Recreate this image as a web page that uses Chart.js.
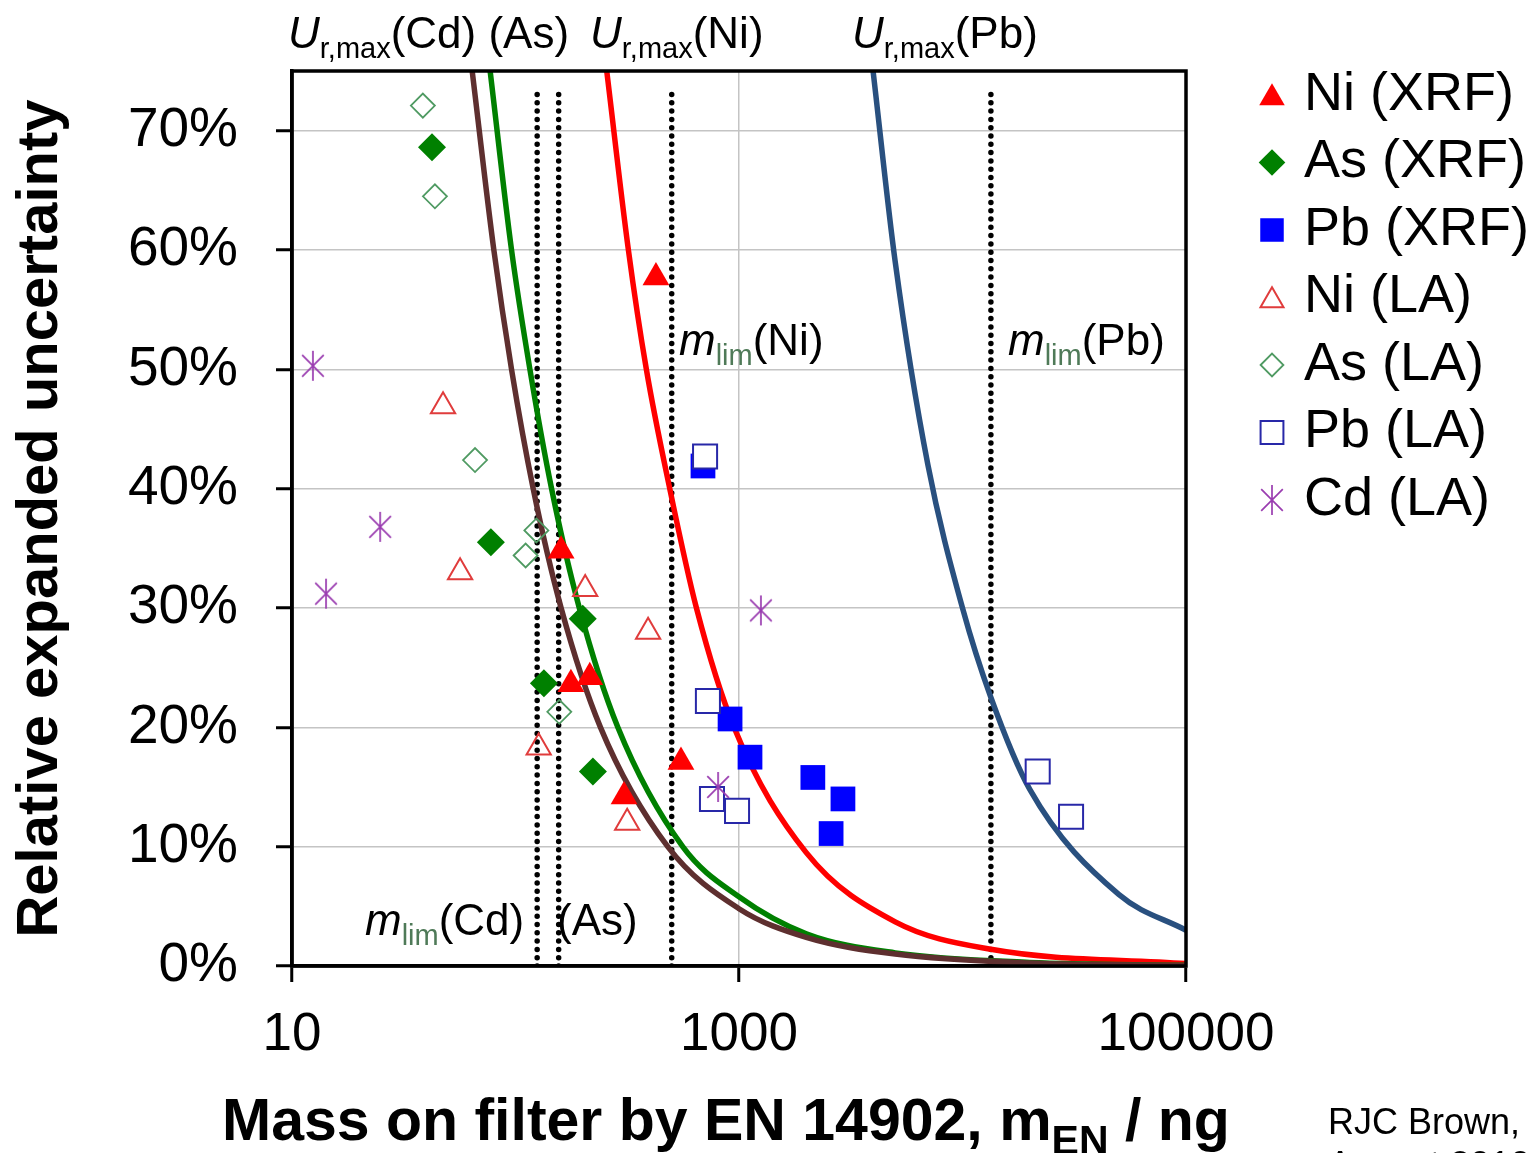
<!DOCTYPE html>
<html>
<head>
<meta charset="utf-8">
<title>Relative expanded uncertainty vs mass on filter</title>
<script src="https://cdn.jsdelivr.net/npm/chart.js@4.4.1/dist/chart.umd.min.js"></script>
<style>
  html, body { margin: 0; padding: 0; background: #fff; }
  #wrap { position: relative; width: 1533px; height: 1153px; }
</style>
</head>
<body>
<div id="wrap"><canvas id="chart"></canvas></div>
<script>
// ===== DATA (mass in ng, uncertainty in %) =====
const X_TICKS = [10, 1000, 100000];

const NI_XRF_MASS = [425, 160, 177, 215, 306, 550];
const NI_XRF_U    = [57.7, 34.8, 23.6, 24.2, 14.2, 17.1];

const AS_XRF_MASS = [42.3, 77.6, 134, 200, 222];
const AS_XRF_U    = [68.6, 35.5, 23.7, 29.1, 16.3];

const PB_XRF_MASS = [690, 912, 1120, 2140, 2918, 2583];
const PB_XRF_U    = [41.9, 20.7, 17.5, 15.8, 14.0, 11.1];

const NI_LA_MASS = [47.4, 56.5, 205, 392, 127, 316];
const NI_LA_U    = [46.9, 33.0, 31.6, 28.0, 18.3, 12.0];

const AS_LA_MASS = [38.5, 43.6, 65.9, 124, 111, 157];
const AS_LA_U    = [72.1, 64.5, 42.4, 36.5, 34.4, 21.3];

const PB_LA_MASS = [705, 726, 757, 980, 21700, 30600];
const PB_LA_U    = [42.7, 22.2, 14.0, 13.0, 16.3, 12.5];

const CD_LA_MASS = [12.4, 24.8, 14.2, 1253, 806];
const CD_LA_U    = [50.3, 36.8, 31.2, 29.8, 15.0];

// Ur,max curves
const CD_CURVE_MASS = [64, 80, 96, 120, 160, 240, 480, 1000, 2000, 5000, 20000, 100000];
const CD_CURVE_U    = [75, 60, 50, 40, 30, 20, 10, 4.8, 2.4, 1.0, 0.25, 0.05];

const AS_CURVE_MASS = [77, 96, 116, 145, 193, 287, 560, 1000, 2000, 5000, 20000, 100000];
const AS_CURVE_U    = [75, 60, 50, 40, 30, 20, 10, 5.8, 2.7, 1.1, 0.3, 0.06];

const NI_CURVE_MASS = [256, 320, 385, 490, 645, 950, 2000, 5000, 13400, 100000];
const NI_CURVE_U    = [75, 60, 50, 40, 30, 20, 9.5, 3.7, 1.4, 0.2];

const PB_CURVE_MASS = [3980, 5000, 7000, 10000, 13400, 20000, 50000, 100000];
const PB_CURVE_U    = [75, 59, 42, 30, 22.5, 14.8, 6.0, 3.0];

// m_lim positions (dotted verticals)
const MLIM_MASS = [125, 156, 500, 13400];
const MLIM_SPAN = [0, 73.5];

// ===== HELPERS =====
const FONT = "'Liberation Sans', Arial, sans-serif";
Chart.defaults.font.family = FONT;
Chart.defaults.color = '#000';

const pts = (xs, ys) => xs.map((x, i) => ({ x, y: ys[i] }));

function makeAsterisk(size, color) {
  const c = document.createElement('canvas');
  c.width = size; c.height = size;
  const g = c.getContext('2d');
  const h = size / 2, r = h - 1, d = r * 0.72;
  g.strokeStyle = color;
  g.lineWidth = 1.7;
  g.beginPath();
  g.moveTo(h, h - r); g.lineTo(h, h + r);
  g.moveTo(h - d, h - d); g.lineTo(h + d, h + d);
  g.moveTo(h + d, h - d); g.lineTo(h - d, h + d);
  g.stroke();
  return c;
}
const ASTERISK = makeAsterisk(32, '#9a3db0');

function marker(label, xs, ys, style, radius, fill, stroke, width, order) {
  return {
    label, data: pts(xs, ys), order,
    pointStyle: style, pointRadius: radius, pointHoverRadius: radius,
    backgroundColor: fill, borderColor: stroke, borderWidth: width,
    showLine: false, legendMarker: true
  };
}

function curve(label, xs, ys, color, order) {
  return {
    label, data: pts(xs, ys), order,
    showLine: true, borderColor: color, borderWidth: 5.5,
    pointRadius: 0, pointHoverRadius: 0,
    cubicInterpolationMode: 'monotone', fill: false
  };
}

function dotted(mass, order) {
  return {
    label: 'mlim', data: MLIM_SPAN.map(y => ({ x: mass, y })), order,
    showLine: true, borderColor: '#000', borderWidth: 5.5,
    borderDash: [0, 8.3], borderCapStyle: 'round',
    pointRadius: 0, pointHoverRadius: 0
  };
}

function drawRich(ctx, x, y, parts) {
  parts.forEach(p => {
    ctx.font = p.font;
    ctx.fillStyle = p.color || '#000';
    ctx.fillText(p.text, x, y + (p.dy || 0));
    x += ctx.measureText(p.text).width;
  });
  return x;
}

const F_MAIN = `44px ${FONT}`;
const F_ITAL = `italic 44px ${FONT}`;
const F_SUB = `29px ${FONT}`;
const LIM_COLOR = '#4f7a58';

const urmax = el => [
  { text: 'U', font: F_ITAL },
  { text: 'r,max', font: F_SUB, dy: 10 },
  { text: el, font: F_MAIN }
];
const mlim = el => [
  { text: 'm', font: F_ITAL },
  { text: 'lim', font: F_SUB, dy: 10, color: LIM_COLOR },
  { text: el, font: F_MAIN }
];

// ===== DECORATION PLUGIN =====
const decor = {
  id: 'decor',
  afterDraw(chart) {
    const { ctx, chartArea: a } = chart;
    ctx.save();

    // plot frame
    ctx.strokeStyle = '#000';
    ctx.lineWidth = 3.5;
    ctx.strokeRect(a.left, a.top, a.right - a.left, a.bottom - a.top);

    ctx.textBaseline = 'alphabetic';
    ctx.textAlign = 'left';

    // top labels
    drawRich(ctx, 288, 48, urmax('(Cd) (As)'));
    drawRich(ctx, 590, 48, urmax('(Ni)'));
    drawRich(ctx, 852, 48, urmax('(Pb)'));

    // m_lim labels
    drawRich(ctx, 679, 355, mlim('(Ni)'));
    drawRich(ctx, 1008, 355, mlim('(Pb)'));
    drawRich(ctx, 365, 935, mlim('(Cd)'));
    drawRich(ctx, 557, 935, [{ text: '(As)', font: F_MAIN }]);

    // x axis title with subscript
    const B = `bold 59px ${FONT}`, BS = `bold 41px ${FONT}`;
    drawRich(ctx, 222, 1140, [
      { text: 'Mass on filter by EN 14902, m', font: B },
      { text: 'EN', font: BS, dy: 14 },
      { text: ' / ng', font: B }
    ]);

    // legend
    const items = chart.data.datasets.filter(d => d.legendMarker);
    const legendOrder = ['Ni (XRF)', 'As (XRF)', 'Pb (XRF)', 'Ni (LA)', 'As (LA)', 'Pb (LA)', 'Cd (LA)'];
    legendOrder.forEach((name, i) => {
      const ds = items.find(d => d.label === name);
      const y = 95 + i * 67.5;
      ctx.fillStyle = ds.backgroundColor;
      ctx.strokeStyle = ds.borderColor;
      ctx.lineWidth = ds.borderWidth;
      const dy = ds.pointStyle === 'triangle' ? 3 : 0;
      Chart.helpers.drawPoint(ctx, {
        pointStyle: ds.pointStyle, radius: ds.pointRadius * 0.95,
        borderWidth: ds.borderWidth, rotation: 0
      }, 1272, y + dy);
      ctx.fillStyle = '#000';
      ctx.font = `54px ${FONT}`;
      ctx.textBaseline = 'middle';
      ctx.fillText(name, 1304, y);
    });

    // credit
    ctx.textBaseline = 'alphabetic';
    ctx.font = `36px ${FONT}`;
    ctx.fillStyle = '#000';
    ctx.fillText('RJC Brown,', 1328, 1134);
    ctx.fillText('August 2010', 1328, 1177);

    ctx.restore();
  }
};

// ===== CHART =====
new Chart(document.getElementById('chart'), {
  type: 'scatter',
  data: {
    datasets: [
      marker('Cd (LA)', CD_LA_MASS, CD_LA_U, ASTERISK, 16, '#9a3db0', '#9a3db0', 1.5, 1),
      marker('Pb (LA)', PB_LA_MASS, PB_LA_U, 'rect', 17, '#ffffff', '#2828a8', 2, 2),
      marker('As (LA)', AS_LA_MASS, AS_LA_U, 'rectRot', 12, 'rgba(255,255,255,0)', '#4f9a62', 1.8, 3),
      marker('Ni (LA)', NI_LA_MASS, NI_LA_U, 'triangle', 14, 'rgba(255,255,255,0)', '#e03c3c', 2, 4),
      marker('Pb (XRF)', PB_XRF_MASS, PB_XRF_U, 'rect', 17.5, '#0000ff', '#0000ff', 0, 5),
      marker('As (XRF)', AS_XRF_MASS, AS_XRF_U, 'rectRot', 14, '#008000', '#008000', 0, 6),
      marker('Ni (XRF)', NI_XRF_MASS, NI_XRF_U, 'triangle', 15.5, '#ff0000', '#ff0000', 0, 7),
      curve('Ur,max(Cd)', CD_CURVE_MASS, CD_CURVE_U, '#5e2f2f', 10),
      curve('Ur,max(As)', AS_CURVE_MASS, AS_CURVE_U, '#008000', 11),
      curve('Ur,max(Ni)', NI_CURVE_MASS, NI_CURVE_U, '#ff0000', 12),
      curve('Ur,max(Pb)', PB_CURVE_MASS, PB_CURVE_U, '#29507f', 13),
      ...MLIM_MASS.map((m, i) => dotted(m, 20 + i))
    ]
  },
  options: {
    responsive: true,
    maintainAspectRatio: false,
    animation: false,
    layout: { padding: { left: 0, top: 69, right: 347, bottom: 0 } },
    plugins: {
      legend: { display: false },
      tooltip: { enabled: false }
    },
    scales: {
      x: {
        type: 'logarithmic',
        position: 'bottom',
        min: 10,
        max: 100000,
        afterBuildTicks: s => { s.ticks = X_TICKS.map(v => ({ value: v, major: true })); },
        afterFit: s => { s.height = 187; },
        grid: { color: '#c4c4c4', lineWidth: 1.5, tickColor: '#000', tickWidth: 3, tickLength: 16 },
        border: { color: '#000', width: 3.5 },
        ticks: {
          autoSkip: false, maxRotation: 0, padding: 22,
          font: { size: 53 }, color: '#000',
          callback: v => String(v)
        }
      },
      y: {
        min: 0,
        max: 75,
        afterFit: s => { s.width = 292; },
        grid: { color: '#c4c4c4', lineWidth: 1.5, tickColor: '#000', tickWidth: 3, tickLength: 16 },
        border: { color: '#000', width: 3.5 },
        ticks: {
          stepSize: 10, includeBounds: false, autoSkip: false, padding: 38,
          font: { size: 55 }, color: '#000',
          callback: v => v + '%'
        },
        title: {
          display: true,
          text: 'Relative expanded uncertainty',
          font: { size: 58, weight: 'bold' },
          color: '#000',
          padding: { top: 6, bottom: 0 }
        }
      }
    }
  },
  plugins: [decor]
});
</script>
</body>
</html>
